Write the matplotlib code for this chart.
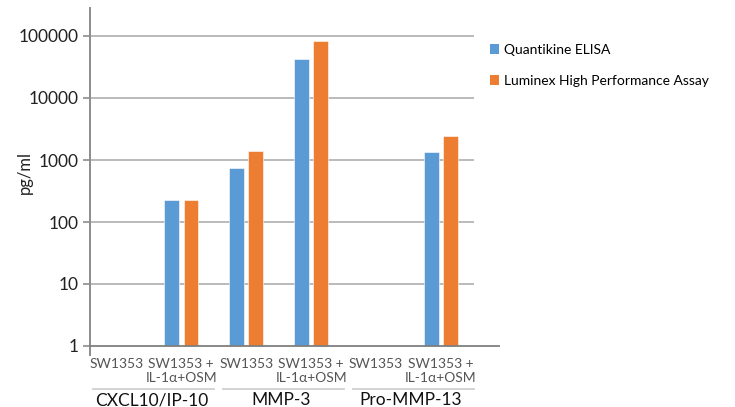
import numpy as np
import matplotlib
matplotlib.use("Agg")
import matplotlib.pyplot as plt
from matplotlib.patches import Patch
import matplotlib.transforms as mtransforms

plt.rcParams['font.family'] = ['Lato', 'DejaVu Sans']

# Data
groups = ["CXCL10/IP-10", "MMP-3", "Pro-MMP-13"]
conditions = ["SW1353", "SW1353 +\nIL-1\u03b1+OSM"] * 3
series_names = ["Quantikine ELISA", "Luminex High Performance Assay"]
quantikine = [0, 225, 750, 43000, 0, 1330]
luminex = [0, 230, 1420, 84000, 0, 2400]

BLUE = "#5B9BD5"
ORANGE = "#ED7D31"
GRID = "#B4B4B4"
AXIS = "#8C8C8C"

fig = plt.figure(figsize=(7.35, 4.07), dpi=100)
ax = fig.add_axes([90 / 735, 1 - 355 / 407, 383.5 / 735, 347 / 407])

x = np.arange(len(conditions))
w = 0.23
off = 0.15
for vals, color, dx in [(quantikine, BLUE, -off), (luminex, ORANGE, off)]:
    vals = np.array(vals, dtype=float)
    mask = vals > 0
    ax.bar(x[mask] + dx, vals[mask] - 1, bottom=1, width=w, color=color,
           edgecolor="white", linewidth=0.4, zorder=3)

ax.set_yscale("log")
ax.set_ylim(10 ** (-9 / 62), 10 ** (5 + 28 / 62))
ax.set_xlim(-0.405, 5.5)

yticks = [1, 10, 100, 1000, 10000, 100000]
ax.set_yticks(yticks)
ax.set_yticklabels([str(t) for t in yticks], fontsize=12.5, color="#222222")
ax.yaxis.set_minor_locator(matplotlib.ticker.NullLocator())
ax.tick_params(axis="y", length=5, width=1.2, color=AXIS, pad=3)
for t in yticks[1:]:
    ax.axhline(t, color=GRID, linewidth=1.3, zorder=1)
# baseline at 1, runs past the plot area
ax.plot([-0.405, 5.9], [1, 1], color="#7F7F7F", linewidth=1.3, zorder=4, clip_on=False)

ax.set_xticks([])
for s in ["top", "right", "bottom"]:
    ax.spines[s].set_visible(False)
ax.spines["left"].set_color(AXIS)
ax.spines["left"].set_linewidth(1.4)

ax.set_ylabel("pg/ml", fontsize=12, color="#222222")
ax.yaxis.set_label_coords((33 - 90) / 383.5, (355 - 172) / 347)

# category labels
trans = mtransforms.blended_transform_factory(ax.transData, fig.transFigure)
for xi, lab in zip(x, conditions):
    ax.text(xi, 1 - 358 / 407, lab, transform=trans, ha="center", va="top",
            fontsize=10, color="#555555", linespacing=1.2)

# group labels and separator lines
for i, g in enumerate(groups):
    c = 2 * i + 0.5 + 0.07
    ax.plot([c - 0.93, c + 0.93], [1 - 389 / 407] * 2, transform=trans,
            color="#D0D0D0", linewidth=1.3, clip_on=False)
    ax.text(c - 0.03, 1 - 405 / 407, g, transform=trans, ha="center", va="baseline",
            fontsize=12.5, color="#111111")

handles = [Patch(facecolor=BLUE, edgecolor="none"), Patch(facecolor=ORANGE, edgecolor="none")]
fig.legend(handles, series_names, loc="upper left", bbox_to_anchor=(490 / 735, 1 - 44 / 407),
           frameon=False, fontsize=10, handlelength=0.65, handleheight=0.65,
           handletextpad=0.35, labelspacing=1.35, borderaxespad=0, borderpad=0)

fig.savefig("out.png", dpi=100)
